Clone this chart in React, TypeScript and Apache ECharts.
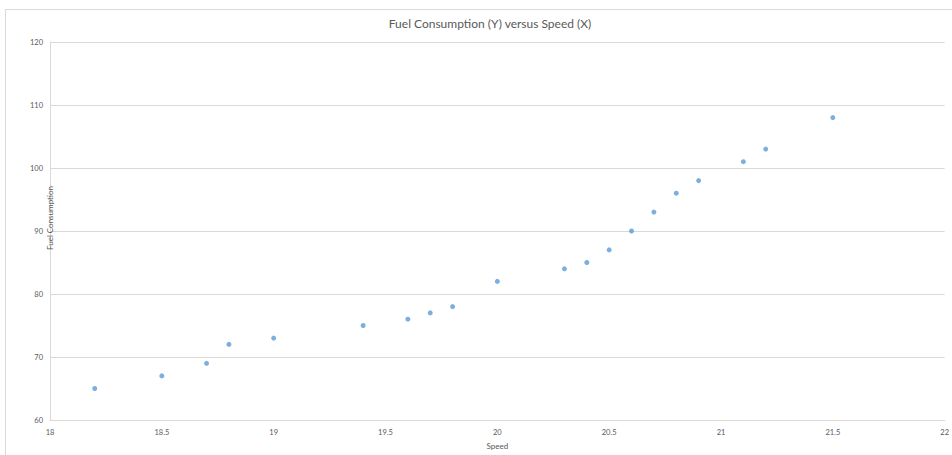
import React, { useEffect, useRef } from "react";
import * as echarts from "echarts";

// Speed (X) and fuel consumption (Y) observations
const speed = [18.2, 18.5, 18.7, 18.8, 19, 19.4, 19.6, 19.7, 19.8, 20, 20.3, 20.4, 20.5, 20.6, 20.7, 20.8, 20.9, 21.1, 21.2, 21.5];
const fuel = [65, 67, 69, 72, 73, 75, 76, 77, 78, 82, 84, 85, 87, 90, 93, 96, 98, 101, 103, 108];

const titleText = "Fuel Consumption (Y) versus Speed (X)";
const xAxisName = "Speed";
const yAxisName = "Fuel Consumption";

const FONT = "Lato, 'Open Sans', sans-serif";
const TEXT_COLOR = "#595959";
const LINE_COLOR = "#d9d9d9";

export default function App() {
  const ref = useRef<HTMLDivElement>(null);

  useEffect(() => {
    if (!ref.current) return;
    const chart = echarts.init(ref.current, null, { renderer: "svg" });
    const points = speed.map((s, i) => [s, fuel[i]]);
    chart.setOption({
      animation: false,
      backgroundColor: "#ffffff",
      title: {
        text: titleText,
        left: 485,
        top: 12,
        textAlign: "center",
        textStyle: { fontFamily: FONT, fontSize: 12, fontWeight: "normal", color: TEXT_COLOR },
      },
      grid: { left: 50, top: 42, right: 1, bottom: 32, containLabel: false },
      xAxis: {
        type: "value",
        min: 18,
        max: 22,
        interval: 0.5,
        name: xAxisName,
        nameLocation: "middle",
        nameGap: 22,
        nameTextStyle: { fontFamily: FONT, fontSize: 8, color: TEXT_COLOR },
        axisLine: { show: true, lineStyle: { color: LINE_COLOR, width: 1 } },
        axisTick: { show: false },
        splitLine: { show: false },
        axisLabel: { fontFamily: FONT, fontSize: 7.5, color: TEXT_COLOR, margin: 8, showMaxLabel: true },
      },
      yAxis: {
        type: "value",
        min: 60,
        max: 120,
        interval: 10,
        axisLine: { show: true, lineStyle: { color: LINE_COLOR, width: 1 } },
        axisTick: { show: false },
        splitLine: { show: true, lineStyle: { color: LINE_COLOR, width: 1 } },
        axisLabel: { fontFamily: FONT, fontSize: 7.5, color: TEXT_COLOR, margin: 7 },
      },
      graphic: [
        {
          type: "rect",
          silent: true,
          shape: { x: 5.5, y: 9.5, width: 1000, height: 500 },
          style: { fill: "none", stroke: LINE_COLOR, lineWidth: 1 },
          z: 0,
        },
        {
          type: "text",
          silent: true,
          x: 50,
          y: 218,
          rotation: Math.PI / 2,
          style: {
            text: yAxisName,
            fontFamily: FONT,
            fontSize: 8,
            fill: TEXT_COLOR,
            textAlign: "center",
            textVerticalAlign: "middle",
          },
          z: 10,
        },
      ],
      series: [
        {
          type: "scatter",
          data: points,
          symbol: "circle",
          symbolSize: 5,
          itemStyle: { color: "#5B9BD5" },
        },
      ],
    });
    return () => chart.dispose();
  }, []);

  return (
    <div
      ref={ref}
      style={{ position: "fixed", left: 0, top: 0, width: 952, height: 455 }}
    />
  );
}
